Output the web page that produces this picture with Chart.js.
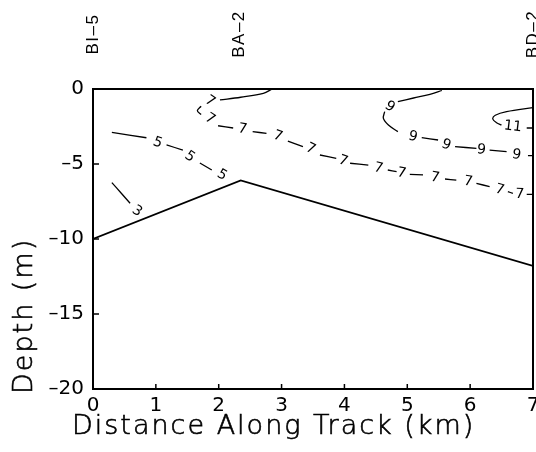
<!DOCTYPE html>
<html>
<head>
<meta charset="utf-8">
<script src="https://cdn.jsdelivr.net/npm/chart.js@4"></script>
<style>
  html, body { margin: 0; padding: 0; background: #fff; }
</style>
</head>
<body>
<canvas id="sectionChart" width="536" height="452"></canvas>
<script>
// Data
const xTicks = [0, 1, 2, 3, 4, 5, 6, 7];
const yTicks = [0, -5, -10, -15, -20];
const xTitle = 'Distance Along Track (km)';
const yTitle = 'Depth (m)';
const stations = ['BI\u20135', 'BA\u20132', 'BD\u20132'];
const stationKm = [0, 2.32, 7];

// sea floor along the track
const bottomKm = [0, 2.35, 7];
const bottomDepth = [-10, -6.1, -11.8];

// contour points [km, depth]; a third entry is a label sitting in a gap of the line
const contour3 = [[0.30, -6.24], [0.45, -6.95], [0.59, -7.62], [0.70, -8.15, '3']];
const contour5 = [[0.30, -2.89], [0.85, -3.25], [1.03, -3.58, '5'], [1.17, -3.73], [1.43, -4.07],
  [1.54, -4.51, '5'], [1.70, -4.93], [1.89, -5.4], [2.05, -5.75, '5']];
const contour7 = [[2.85, 0], [2.71, -0.29], [2.35, -0.55], [2.02, -0.73], [1.86, -0.82, '7'],
  [1.72, -1.15], [1.66, -1.45], [1.72, -1.7], [1.86, -2.0, '7'], [1.99, -2.45], [2.23, -2.6],
  [2.38, -2.68, '7'], [2.54, -2.84], [2.76, -2.96], [2.94, -3.15, '7'], [3.1, -3.47], [3.34, -3.84],
  [3.46, -4.0, '7'], [3.61, -4.4], [3.87, -4.62], [3.98, -4.8, '7'], [4.09, -4.95], [4.38, -5.07],
  [4.54, -5.29, '7'], [4.69, -5.4], [4.83, -5.51], [4.91, -5.62, '7'], [5.04, -5.69], [5.25, -5.73],
  [5.44, -5.91, '7'], [5.6, -6.0], [5.78, -6.07], [5.97, -6.18, '7'], [6.1, -6.29], [6.31, -6.51],
  [6.47, -6.73, '7'], [6.6, -6.84], [6.68, -6.96], [6.79, -7.02, '7'], [6.9, -7.02], [7, -7.02]];
const contour9 = [[5.55, -0.1], [5.36, -0.36], [5.1, -0.6], [4.85, -0.84], [4.72, -1.18, '9'],
  [4.64, -1.51], [4.62, -1.96], [4.7, -2.4], [4.85, -2.84], [5.09, -3.18, '9'], [5.23, -3.24],
  [5.49, -3.4], [5.62, -3.73, '9'], [5.76, -3.84], [6.1, -3.96], [6.18, -4.07, '9'], [6.31, -4.07],
  [6.58, -4.18], [6.74, -4.4, '9'], [6.92, -4.44], [7, -4.44]];
const contour11 = [[7, -1.24], [6.58, -1.51], [6.40, -1.75], [6.36, -2.0], [6.42, -2.25], [6.5, -2.4],
  [6.68, -2.51, '11'], [6.9, -2.6], [7, -2.6]];

const contours = [contour3, contour5, contour7, contour9, contour11];

Chart.defaults.color = '#000';
Chart.defaults.font.family = '"DejaVu Sans", sans-serif';

// draws the frame, inward ticks, contour labels, station names and axis titles
const sectionPlugin = {
  id: 'sectionPlugin',
  afterDatasetsDraw(chart) {
    const { ctx, chartArea: a, scales: { x, y } } = chart;
    ctx.save();
    ctx.strokeStyle = '#000';
    ctx.lineWidth = 2;
    ctx.strokeRect(a.left, a.top, a.right - a.left, a.bottom - a.top);

    ctx.lineWidth = 1.5;
    ctx.beginPath();
    xTicks.slice(1, -1).forEach(v => {
      const px = x.getPixelForValue(v);
      ctx.moveTo(px, a.bottom);
      ctx.lineTo(px, a.bottom - 5);
    });
    yTicks.slice(1, -1).forEach(v => {
      const py = y.getPixelForValue(v);
      ctx.moveTo(a.left, py);
      ctx.lineTo(a.left + 6, py);
    });
    ctx.stroke();

    // contour labels, turned along the line
    ctx.font = '14px "DejaVu Sans"';
    ctx.textAlign = 'center';
    ctx.textBaseline = 'middle';
    ctx.fillStyle = '#000';
    contours.forEach(pts => {
      pts.forEach((p, i) => {
        if (p.length < 3) return;
        const prev = pts[i - 1];
        const next = pts[i + 1] || prev;
        const from = next === prev ? pts[i - 2] : prev;
        let ang = Math.atan2(y.getPixelForValue(next[1]) - y.getPixelForValue(from[1]),
          x.getPixelForValue(next[0]) - x.getPixelForValue(from[0]));
        ang = Math.max(-0.6, Math.min(0.6, ang));
        ctx.save();
        ctx.translate(x.getPixelForValue(p[0]), y.getPixelForValue(p[1]));
        ctx.rotate(ang);
        ctx.fillText(p[2], 0, 0);
        ctx.restore();
      });
    });

    // station names above the frame
    ctx.font = '17px "Liberation Sans"';
    ctx.letterSpacing = '1.5px';
    stations.forEach((name, i) => {
      ctx.save();
      ctx.translate(x.getPixelForValue(stationKm[i]), 34);
      ctx.rotate(-Math.PI / 2);
      ctx.fillText(name, 0, 0);
      ctx.restore();
    });

    // axis titles
    ctx.font = '200 27px "DejaVu Sans"';
    ctx.letterSpacing = '2px';
    ctx.textAlign = 'left';
    ctx.lineWidth = 0.6;
    ctx.fillText(xTitle, 72, 427);
    ctx.strokeText(xTitle, 72, 427);
    ctx.save();
    ctx.translate(25, 394);
    ctx.rotate(-Math.PI / 2);
    ctx.fillText(yTitle, 0, 0);
    ctx.strokeText(yTitle, 0, 0);
    ctx.restore();
    ctx.restore();
  }
};

const lineStyle = { showLine: true, pointRadius: 0, borderColor: '#000', spanGaps: false };

const datasets = [{
  ...lineStyle,
  label: 'Bottom',
  borderWidth: 1.8,
  data: bottomKm.map((v, i) => ({ x: v, y: bottomDepth[i] })),
}];
contours.forEach(pts => {
  datasets.push({
    ...lineStyle,
    borderWidth: 1.3,
    tension: 0.35,
    data: pts.map(p => ({ x: p[0], y: p.length > 2 ? null : p[1] })),
  });
});

const ctx = document.getElementById('sectionChart').getContext('2d');
new Chart(ctx, {
  type: 'scatter',
  data: { datasets },
  options: {
    responsive: false,
    animation: false,
    layout: { padding: { top: 89, right: 3, left: 0, bottom: 0 } },
    plugins: { legend: { display: false }, tooltip: { enabled: false } },
    scales: {
      x: {
        type: 'linear',
        min: 0,
        max: 7,
        grid: { display: false, drawTicks: false },
        border: { display: false },
        ticks: { stepSize: 1, padding: 5, font: { size: 20 } },
        afterFit(scale) {
          scale.height = 63;
          scale.paddingLeft = 0;
          scale.paddingRight = 0;
        },
      },
      y: {
        min: -20,
        max: 0,
        grid: { display: false, drawTicks: false },
        border: { display: false },
        ticks: {
          stepSize: 5,
          padding: 9,
          font: { size: 20 },
          callback: v => (v < 0 ? '\u2013' + Math.abs(v) : v),
        },
        afterFit(scale) {
          scale.width = 93;
          scale.paddingTop = 0;
          scale.paddingBottom = 0;
        },
      },
    },
  },
  plugins: [sectionPlugin],
});
</script>
</body>
</html>
